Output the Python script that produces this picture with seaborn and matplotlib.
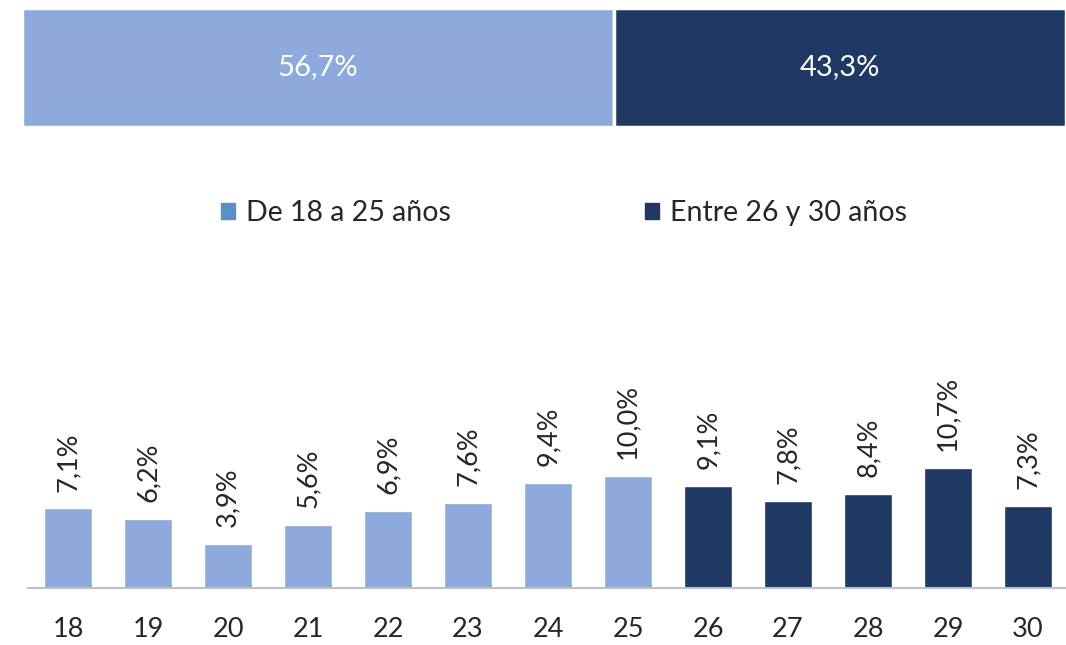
import numpy as np
import pandas as pd
import matplotlib.pyplot as plt
import seaborn as sns
from matplotlib.patches import Patch

sns.set_style("white")
plt.rcParams['font.family'] = ['Lato', 'DejaVu Sans']

# data
grupos = ['De 18 a 25 años', 'Entre 26 y 30 años']
reparto = [56.7, 43.3]
edades = ['18', '19', '20', '21', '22', '23', '24', '25', '26', '27', '28', '29', '30']
pct = [7.1, 6.2, 3.9, 5.6, 6.9, 7.6, 9.4, 10.0, 9.1, 7.8, 8.4, 10.7, 7.3]
grupo_edad = [grupos[0]] * 8 + [grupos[1]] * 5

claro = '#8EA9DB'
oscuro = '#203864'
colores = {grupos[0]: claro, grupos[1]: oscuro}
texto = '#262626'

fig = plt.figure(figsize=(10.66, 6.45), dpi=100)

# top stacked bar
ax1 = fig.add_axes([22/1066, 1 - 127/645, 1 - 22/1066, 119/645])
left = 0
for g, v in zip(grupos, reparto):
    ax1.barh([0], [v], left=left, height=1.0, color=colores[g], edgecolor='white', linewidth=2.5)
    ax1.text(left + v/2, 0, f"{v:.1f}%".replace('.', ','), ha='center', va='center',
             color='white', fontsize=21)
    left += v
ax1.set_xlim(0, 100)
ax1.set_ylim(-0.5, 0.5)
ax1.axis('off')

# legend
handles = [Patch(color='#5B8FC7', label=grupos[0]), Patch(color=oscuro, label=grupos[1])]
fig.legend(handles=handles, loc='center', bbox_to_anchor=(0.529, 1 - 213/645), ncol=2,
           frameon=False, fontsize=20.5, handlelength=0.5, handleheight=0.5,
           handletextpad=0.4, columnspacing=6.8, labelcolor=texto)

# bottom bar chart
ax2 = fig.add_axes([28/1066, 1 - 588/645, 1 - 28/1066 + 2/1066, 288/645])
df = pd.DataFrame({'edad': edades, 'pct': pct, 'grupo': grupo_edad})
sns.barplot(data=df, x='edad', y='pct', hue='grupo', palette=colores, dodge=False,
            width=0.6, legend=False, ax=ax2, saturation=1)
for i, v in enumerate(pct):
    ax2.text(i, v + 1.5, f"{v:.1f}%".replace('.', ','), rotation=90, ha='center', va='bottom',
             fontsize=19.5, color=texto)
ax2.set_xlim(-0.5, 12.5)
ax2.set_ylim(0, 25.7)
ax2.set_xlabel('')
ax2.set_ylabel('')
ax2.set_yticks([])
for s in ['top', 'right', 'left']:
    ax2.spines[s].set_visible(False)
ax2.spines['bottom'].set_color('#BFBFBF')
ax2.spines['bottom'].set_linewidth(1.5)
ax2.set_xticks(np.arange(13))
ax2.set_xticklabels(edades, fontsize=19.5, color=texto)
ax2.tick_params(axis='x', length=0, pad=21)
ax2.set_xticks(np.arange(-0.5, 13, 1), minor=True)
ax2.tick_params(axis='x', which='minor', length=10, width=1.5, color='#BFBFBF', direction='out')

fig.savefig('out.png', dpi=100)
